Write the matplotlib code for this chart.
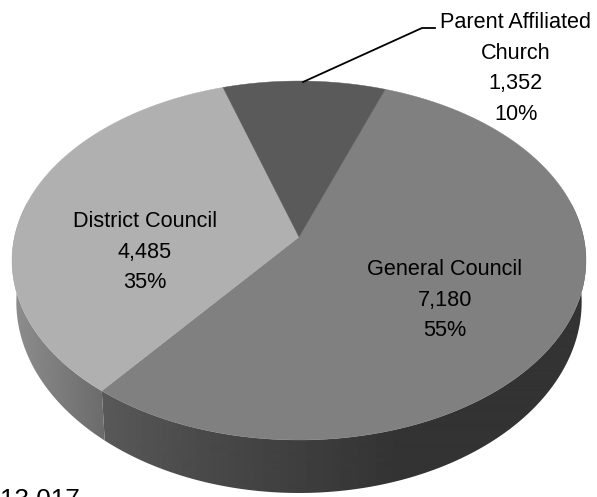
import numpy as np
import matplotlib
matplotlib.use("Agg")
import matplotlib.pyplot as plt
from matplotlib.patches import Polygon

plt.rcParams['font.family'] = ['Liberation Sans', 'DejaVu Sans']

categories = ["General Council", "District Council", "Parent Affiliated\nChurch"]
counts = [7180, 4485, 1352]
pct_labels = ["55%", "35%", "10%"]
total_label = "13,017"

top_colours = ["#808080", "#b0b0b0", "#5a5a5a"]
# wall shade (x pixel, grey level) stops for the two slices with a visible wall
wall_stops = {0: ([100, 200, 400, 590], [0.35, 0.29, 0.20, 0.20]),
              1: ([10, 105], [0.56, 0.42])}
label_xy = [(445, 275), (145, 227), (516, 28)]

# projection of the tilted disc, in pixels
CX, CY = 299, 237
R, S, K = 284.5, 176.4, 0.131
DEPTH = 53
START = 19.9  # clockwise from the far side of the disc


def project(theta):
    u, v = np.sin(theta), np.cos(theta)
    w = 1 + K * v
    return CX + R * u / w, CY - S * v / w


def project_bottom(theta):
    x, y = project(theta)
    v = np.cos(theta)
    drop = DEPTH * ((1 - K) / (1 + K * v)) ** 2
    return CX + (x - CX) * 0.985, y + drop


fig = plt.figure(figsize=(5.97, 4.97), dpi=100)
ax = fig.add_axes([0, 0, 1, 1])
ax.axis('off')

angles = np.radians(START + np.cumsum([0] + counts) / sum(counts) * 360)

# walls: a horizontal gradient clipped to the rim outline of each slice
for i, (stop_x, stop_g) in wall_stops.items():
    ts = np.linspace(angles[i], angles[i + 1], 300)
    ts = ts[np.cos(ts) < 0.2]
    xt, yt = project(ts)
    xb, yb = project_bottom(ts)
    outline = np.c_[np.r_[xt, xb[::-1]], np.r_[yt, yb[::-1]]]
    patch = Polygon(outline, closed=True, facecolor='none', edgecolor='none')
    ax.add_patch(patch)
    xgrid = np.arange(0, 597)
    shade = np.interp(xgrid, stop_x, stop_g)[None, :]
    im = ax.imshow(shade, cmap='gray', vmin=0, vmax=1, aspect='auto',
                   extent=[0, 597, 497, 0], interpolation='bilinear')
    im.set_clip_path(patch)

# top of the pie
for i in range(len(counts)):
    ts = np.linspace(angles[i], angles[i + 1], 200)
    xs, ys = project(ts)
    ax.fill(np.r_[CX, xs], np.r_[CY, ys], facecolor=top_colours[i], edgecolor=top_colours[i], lw=0.3)

ax.plot([303, 422, 435], [82, 28, 28], color='black', lw=1.3)

for i in range(len(counts)):
    lines = categories[i].split("\n") + [f"{counts[i]:,}", pct_labels[i]]
    x, y = label_xy[i]
    for j, line in enumerate(lines):
        ax.text(x, y + j * 30.7, line, ha='center', va='baseline', fontsize=15.6, color='black')

ax.text(0, 506, total_label, ha='left', va='baseline', fontsize=18.8, color='black')

ax.set_xlim(0, 597)
ax.set_ylim(497, 0)

fig.savefig("out.png", dpi=100, facecolor='white')
